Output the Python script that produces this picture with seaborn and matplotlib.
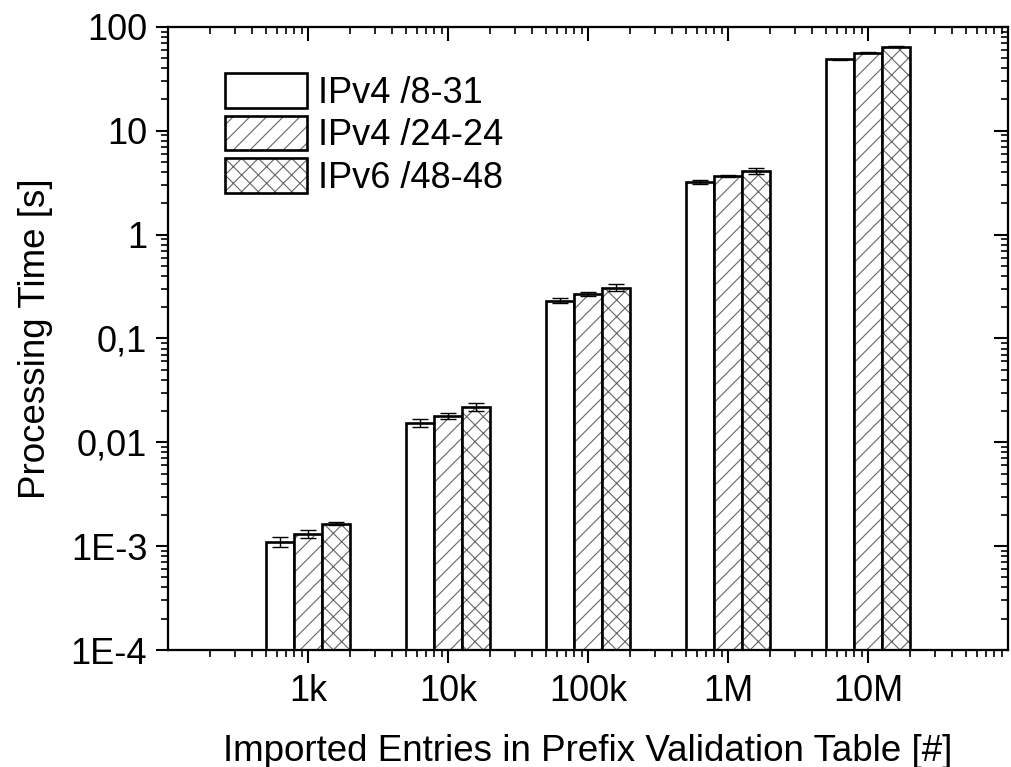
import numpy as np
import pandas as pd
import matplotlib
matplotlib.use("Agg")
import matplotlib.pyplot as plt
import seaborn as sns

# values
entries = [1e3, 1e4, 1e5, 1e6, 1e7]
entry_labels = ["1k", "10k", "100k", "1M", "10M"]
series = ["IPv4 /8-31", "IPv4 /24-24", "IPv6 /48-48"]

time_v4_8_31 = [0.00110, 0.0154, 0.231, 3.24, 48.9]
time_v4_24_24 = [0.00132, 0.0179, 0.269, 3.69, 56.2]
time_v6_48_48 = [0.00165, 0.0219, 0.309, 4.12, 64.3]

err_v4_8_31 = [0.00012, 0.0014, 0.013, 0.15, 0.6]
err_v4_24_24 = [0.00011, 0.0011, 0.012, 0.08, 0.6]
err_v6_48_48 = [0.00006, 0.0019, 0.022, 0.25, 0.5]

y_ticks = [1e-4, 1e-3, 1e-2, 1e-1, 1, 10, 100]
y_tick_labels = ["1E-4", "1E-3", "0,01", "0,1", "1", "10", "100"]

hatches = ["", "//", "xx"]

times = [time_v4_8_31, time_v4_24_24, time_v6_48_48]
errors = [err_v4_8_31, err_v4_24_24, err_v6_48_48]

df = pd.DataFrame({
    "entries": np.tile(entries, len(series)),
    "time": np.concatenate(times),
    "series": np.repeat(series, len(entries)),
})

sns.set_style("ticks")
plt.rcParams["font.family"] = ["Liberation Sans", "DejaVu Sans"]
plt.rcParams.update({
    "hatch.linewidth": 0.8,
    "axes.linewidth": 1.5,
    "axes.edgecolor": "black",
    "axes.labelcolor": "black",
    "text.color": "black",
    "xtick.color": "black",
    "ytick.color": "black",
})

fig = plt.figure(figsize=(10.12, 7.67), dpi=100)
ax = fig.add_axes([0.166, 0.1525, 0.830, 0.8125])

sns.barplot(data=df, x="entries", y="time", hue="series", hue_order=series,
            native_scale=True, log_scale=(True, True), width=0.6, gap=0,
            palette=["white"] * 3, saturation=1, edgecolor="black",
            linewidth=1.9, errorbar=None, legend=False, ax=ax)

bar_containers = list(ax.containers)
for cont, hatch, err in zip(bar_containers, hatches, errors):
    xs, ys = [], []
    for p in cont.patches:
        p.set_hatch(hatch)
        # grey hatch lines, black outline
        p._hatch_color = (0.4, 0.4, 0.4, 1.0)
        x0, x1 = p.get_x(), p.get_x() + p.get_width()
        xs.append(10 ** ((np.log10(x0) + np.log10(x1)) / 2))
        ys.append(p.get_height() + p.get_y())
    ax.errorbar(xs, ys, yerr=err, fmt="none", ecolor="black",
                elinewidth=1.0, capsize=5.5, capthick=1.0, zorder=5)

ax.set_xscale("log")
ax.set_yscale("log")
ax.set_xlim(1e2, 1e8)
ax.set_ylim(1e-4, 100)

ax.set_xticks(entries)
ax.set_xticklabels(entry_labels)
ax.set_yticks(y_ticks)
ax.set_yticklabels(y_tick_labels)
ax.tick_params(axis="both", which="major", direction="out", length=9,
               width=1.5, labelsize=26, top=False, right=False)
ax.tick_params(axis="both", which="minor", direction="out", length=5,
               width=1.2, top=False, right=False)
ax.tick_params(axis="x", which="major", pad=8)
ax.tick_params(axis="y", which="major", pad=6)
ax.set_xlabel("Imported Entries in Prefix Validation Table [#]",
              fontsize=26.5, labelpad=18)
ax.set_ylabel("Processing Time [s]", fontsize=26.5, labelpad=13)

for s in ax.spines.values():
    s.set_visible(True)
    s.set_linewidth(1.5)

# top and right axes with inward ticks, no labels
ax_top = ax.twiny()
ax_top.set_xscale("log")
ax_top.set_xlim(ax.get_xlim())
ax_top.set_xticks(entries)
ax_top.tick_params(axis="x", which="major", direction="in", length=10,
                   width=1.5, labeltop=False)
ax_top.tick_params(axis="x", which="minor", direction="in", length=5,
                   width=1.2)
ax_right = ax.twinx()
ax_right.set_yscale("log")
ax_right.set_ylim(ax.get_ylim())
ax_right.set_yticks(y_ticks)
ax_right.tick_params(axis="y", which="major", direction="in", length=10,
                     width=1.5, labelright=False)
ax_right.tick_params(axis="y", which="minor", direction="in", length=5,
                     width=1.2)

handles = [c.patches[0] for c in bar_containers]
ax.legend(handles, series, loc="upper left", bbox_to_anchor=(0.068, 0.926),
          frameon=False, fontsize=26, borderpad=0, borderaxespad=0,
          handlelength=2.27, handleheight=1.1, labelspacing=0.14,
          handletextpad=0.3)

fig.savefig("out.png", dpi=100)
